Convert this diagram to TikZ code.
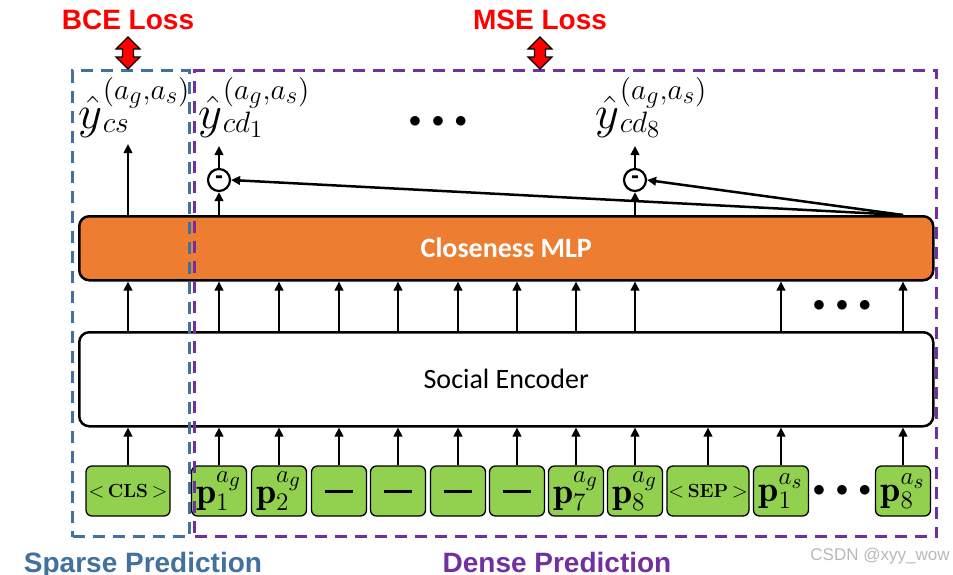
\documentclass[tikz,border=0pt]{standalone}
\usepackage{fontspec}
\usetikzlibrary{arrows.meta}
\newfontfamily\arialf{Liberation Sans}
\newfontfamily\calib{Carlito}
\definecolor{spblue}{RGB}{65,113,156}
\definecolor{dnpurple}{RGB}{112,48,160}
\definecolor{tokgreen}{RGB}{146,208,80}
\definecolor{mlporange}{RGB}{237,125,49}
\definecolor{lossred}{RGB}{255,0,0}
\newcommand{\threedots}{$\bullet\hspace{5pt}\bullet\hspace{5pt}\bullet$}
% y-hat label: #1 superscript, #2 subscript
\newcommand{\ylab}[2]{\scalebox{2.25}{\fontsize{20.74}{24}\selectfont$\hat{y}$}%
  \scalebox{2.05}{\fontsize{20.74}{24}\selectfont
  \kern0.3pt\rlap{\raisebox{14pt}{$\scriptstyle #1$}}\raisebox{-2pt}{$\scriptstyle #2$}\phantom{$\scriptstyle #1$}}}
\newcommand{\tokmath}[1]{\scalebox{2.1}{\fontsize{17.28}{20}\selectfont$#1$}}
\newcommand{\sptok}[1]{{\fontsize{20.74}{24}\selectfont$<$}\hspace{3.5pt}{\fontsize{19}{22}\selectfont\bfseries #1}\hspace{3.5pt}{\fontsize{20.74}{24}\selectfont$>$}}
\begin{document}
\begin{tikzpicture}[x=1pt,y=-1pt,
  arr/.style={line width=2.5pt,-{Triangle[length=9pt,width=8.5pt]}},
  bigbox/.style={draw,line width=2.5pt,rounded corners=10pt,anchor=north west,inner sep=0pt},
  tok/.style={draw,line width=1.3pt,fill=tokgreen,rounded corners=6pt,minimum height=50pt,minimum width=55pt,inner sep=0pt},
  dashframe/.style={line width=3pt,dash pattern=on 12pt off 8pt,anchor=north west,inner sep=0pt},
  minuscirc/.style={circle,draw,line width=2.2pt,minimum size=22pt,inner sep=0pt},
  losslabel/.style={font=\arialf\bfseries\fontsize{28}{32}\selectfont,text=lossred,anchor=base,inner sep=0pt},
  predlabel/.style={font=\arialf\bfseries\fontsize{28}{32}\selectfont,anchor=base,inner sep=0pt},
  ylabel/.style={anchor=base west,inner sep=0pt},
  dotsnode/.style={inner sep=0pt,font=\fontsize{24}{28}\selectfont},
  redarrow/.style={draw=black,line width=1.2pt,fill=lossred}
]
\useasboundingbox (0,0) rectangle (953,574);

% main boxes
\node[bigbox,fill=mlporange,minimum width=854pt,minimum height=64pt] (mlp) at (78,215)
  {\calib\bfseries\fontsize{28}{32}\selectfont\color{white}Closeness MLP};
\node[bigbox,fill=white,minimum width=854pt,minimum height=94pt] (enc) at (78,331)
  {\calib\fontsize{28}{32}\selectfont Social Encoder};

% tokens
\node[tok,minimum width=84pt] (tcls) at (128,491) {\sptok{CLS}};
\node[tok] (t1) at (219,491) {\tokmath{\mathbf{p}_1^{a_g}}};
\node[tok] (t2) at (279,491) {\tokmath{\mathbf{p}_2^{a_g}}};
\node[tok] (t3) at (339,491) {\rule[-4pt]{28pt}{3.5pt}};
\node[tok] (t4) at (398,491) {\rule[-4pt]{28pt}{3.5pt}};
\node[tok] (t5) at (458,491) {\rule[-4pt]{28pt}{3.5pt}};
\node[tok] (t6) at (517,491) {\rule[-4pt]{28pt}{3.5pt}};
\node[tok] (t7) at (576,491) {\tokmath{\mathbf{p}_7^{a_g}}};
\node[tok] (t8) at (635,491) {\tokmath{\mathbf{p}_8^{a_g}}};
\node[tok,minimum width=82pt] (tsep) at (708,491) {\sptok{SEP}};
\node[tok] (t9) at (781,491) {\tokmath{\mathbf{p}_1^{a_s}}};
\node[tok] (t10) at (903,491) {\tokmath{\mathbf{p}_8^{a_s}}};

% dots
\node[dotsnode] (dtok) at (842,491) {\threedots};
\node[dotsnode] (dmid) at (842,306) {\threedots};
\node[dotsnode] (dtop) at (438,122) {\threedots};

% token -> encoder arrows
\foreach \t in {tcls,t1,t2,t3,t4,t5,t6,t7,t8,tsep,t9,t10}
  \draw[arr] (\t.north) -- (\t.north |- enc.south);
% encoder -> MLP arrows
\foreach \t in {tcls,t1,t2,t3,t4,t5,t6,t7,t8,t9,t10}
  \draw[arr] (\t.north |- enc.north) -- (\t.north |- mlp.south);

% difference circles
\node[minuscirc] (c1) at (219,180) {\arialf\bfseries\fontsize{24}{24}\selectfont\raisebox{-2.5pt}{-}};
\node[minuscirc] (c2) at (635,180) {\arialf\bfseries\fontsize{24}{24}\selectfont\raisebox{-2.5pt}{-}};

% outputs
\coordinate (ycsend) at (128,144);
\coordinate (ycd1end) at (219,146);
\coordinate (ycd8end) at (635,146);
\draw[arr] (tcls.north |- mlp.north) -- (ycsend);
\draw[arr] (t1.north |- mlp.north) -- (c1.south);
\draw[arr] (t8.north |- mlp.north) -- (c2.south);
\draw[arr] (c1.north) -- (ycd1end);
\draw[arr] (c2.north) -- (ycd8end);
\draw[arr] (t10.north |- mlp.north) -- (c1.east);
\draw[arr] (t10.north |- mlp.north) -- (c2.east);

% labels
\node[ylabel] (ycs) at (78,128) {\ylab{(a_g,a_s)}{cs}};
\node[ylabel] (ycd1) at (198,128) {\ylab{(a_g,a_s)}{cd_1}};
\node[ylabel] (ycd8) at (595,128) {\ylab{(a_g,a_s)}{cd_8}};

% dashed frames
\node[dashframe,draw=spblue,minimum width=117pt,minimum height=466pt] (sparse) at (71,69) {};
\node[dashframe,draw=dnpurple,minimum width=742pt,minimum height=466pt] (dense) at (193,69) {};

% loss labels and arrows
\node[losslabel] (bce) at (128,29) {BCE Loss};
\node[losslabel] (mse) at (540,29) {MSE Loss};
\draw[redarrow] (128,37) -- (140,49) -- (133.5,49) -- (133.5,57) -- (140,57) -- (128,69)
  -- (116,57) -- (122.5,57) -- (122.5,49) -- (116,49) -- cycle;
\draw[redarrow] (540,37) -- (552,49) -- (545.5,49) -- (545.5,57) -- (552,57) -- (540,69)
  -- (528,57) -- (534.5,57) -- (534.5,49) -- (528,49) -- cycle;

% prediction labels
\node[predlabel,text=spblue] (sparselbl) at (143,572) {Sparse Prediction};
\node[predlabel,text=dnpurple] (denselbl) at (557,572) {Dense Prediction};

% watermark
\node[anchor=base,inner sep=0pt,text=black!28,font=\arialf\fontsize{17}{20}\selectfont] (wm) at (880,560) {CSDN @xyy\_wow};
\end{tikzpicture}
\end{document}
